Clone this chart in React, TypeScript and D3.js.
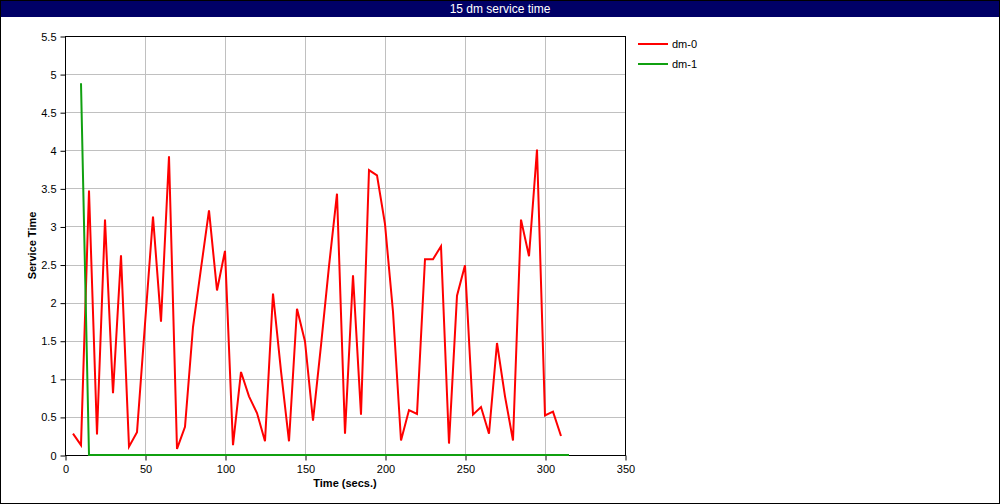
import React, { useEffect, useRef } from 'react';
import * as d3 from 'd3';

// dm-0 sampled every 5 s from 5 to 310
const dm0Times = d3.range(5, 311, 5);
const dm0Values = [
  0.28, 0.13, 3.47, 0.27, 3.09, 0.81, 2.62, 0.11, 0.3, 1.72,
  3.13, 1.75, 3.92, 0.08, 0.37, 1.68, 2.45, 3.21, 2.16, 2.68,
  0.13, 1.09, 0.77, 0.55, 0.18, 2.12, 1.1, 0.18, 1.92, 1.49,
  0.45, 1.44, 2.48, 3.43, 0.28, 2.36, 0.53, 3.74, 3.67, 3.03,
  1.88, 0.19, 0.59, 0.54, 2.57, 2.57, 2.74, 0.15, 2.09, 2.49,
  0.53, 0.63, 0.28, 1.47, 0.77, 0.19, 3.09, 2.61, 4.01, 0.52,
  0.57, 0.25,
];

// dm-1 sampled every 5 s from 10 to 315
const dm1Times = d3.range(10, 316, 5);
const dm1Values = [4.88, ...dm1Times.slice(1).map(() => 0)];

const seriesNames = ['dm-0', 'dm-1'];
const seriesColors = ['#ff0000', '#10a010'];
const xTicks = d3.range(0, 351, 50);
const yTicks = d3.range(0, 5.51, 0.5);

const W = 1000;
const H = 504;
const plot = { left: 65, right: 625, top: 36, bottom: 455 };
const font = '"Liberation Sans", Arial, sans-serif';

const App = () => {
  const ref = useRef<SVGSVGElement>(null);

  useEffect(() => {
    const svg = d3.select(ref.current);
    svg.selectAll('*').remove();

    const x = d3.scaleLinear().domain([0, 350]).range([plot.left, plot.right]);
    const y = d3.scaleLinear().domain([0, 5.5]).range([plot.bottom, plot.top]);

    svg.append('rect').attr('width', W).attr('height', H).attr('fill', '#fff');

    // title bar
    svg.append('rect').attr('x', 0).attr('y', 0).attr('width', W).attr('height', 17).attr('fill', '#000066');
    svg
      .append('text')
      .attr('x', W / 2)
      .attr('y', 12.5)
      .attr('text-anchor', 'middle')
      .attr('fill', '#fff')
      .style('font', `12px ${font}`)
      .text('15 dm service time');

    // grid
    const grid = svg.append('g').attr('stroke', '#c0c0c0').attr('stroke-width', 1);
    xTicks.slice(1, -1).forEach((t) => {
      grid.append('line').attr('x1', x(t) + 0.5).attr('x2', x(t) + 0.5).attr('y1', plot.top).attr('y2', plot.bottom);
    });
    yTicks.slice(1, -1).forEach((t) => {
      grid.append('line').attr('x1', plot.left).attr('x2', plot.right).attr('y1', Math.round(y(t)) + 0.5).attr('y2', Math.round(y(t)) + 0.5);
    });

    // axes
    const xAxis = svg
      .append('g')
      .attr('transform', `translate(0.5,${plot.bottom + 0.5})`)
      .call(d3.axisBottom(x).tickValues(xTicks).tickSize(5).tickSizeOuter(0).tickFormat(d3.format('d')));
    const yAxis = svg
      .append('g')
      .attr('transform', `translate(${plot.left + 0.5},0.5)`)
      .call(d3.axisLeft(y).tickValues(yTicks).tickSize(5).tickSizeOuter(0).tickFormat((d) => String(d)));
    [xAxis, yAxis].forEach((a) => {
      a.select('.domain').remove();
      a.selectAll('line').attr('stroke', '#000');
      a.selectAll('text').attr('fill', '#000').style('font', `11px ${font}`);
    });
    xAxis.selectAll('text').attr('dy', '0.9em');
    yAxis.selectAll('text').attr('dx', '-1px');

    // frame
    svg
      .append('rect')
      .attr('x', plot.left + 0.5)
      .attr('y', plot.top + 0.5)
      .attr('width', plot.right - plot.left)
      .attr('height', plot.bottom - plot.top)
      .attr('fill', 'none')
      .attr('stroke', '#000');

    svg
      .append('text')
      .attr('x', (plot.left + plot.right) / 2)
      .attr('y', 487)
      .attr('text-anchor', 'middle')
      .style('font', `bold 11px ${font}`)
      .text('Time (secs.)');
    svg
      .append('text')
      .attr('transform', `translate(36,${(plot.top + plot.bottom) / 2}) rotate(-90)`)
      .attr('text-anchor', 'middle')
      .style('font', `bold 11px ${font}`)
      .text('Service Time');

    // series
    const line = d3
      .line<[number, number]>()
      .x((d) => x(d[0]))
      .y((d) => y(d[1]));
    const series: [number, number][][] = [
      dm0Times.map((t, i) => [t, dm0Values[i]]),
      dm1Times.map((t, i) => [t, dm1Values[i]]),
    ];
    series.forEach((s, i) => {
      svg
        .append('path')
        .attr('d', line(s))
        .attr('fill', 'none')
        .attr('stroke', seriesColors[i])
        .attr('stroke-width', 2)
        .attr('stroke-linejoin', 'miter');
    });

    // legend
    seriesNames.forEach((name, i) => {
      const ly = 44 + i * 20;
      svg
        .append('line')
        .attr('x1', 638)
        .attr('x2', 668)
        .attr('y1', ly)
        .attr('y2', ly)
        .attr('stroke', seriesColors[i])
        .attr('stroke-width', 2);
      svg
        .append('text')
        .attr('x', 672)
        .attr('y', ly + 4)
        .style('font', `11px ${font}`)
        .text(name);
    });

    // outer border
    svg
      .append('rect')
      .attr('x', 0.5)
      .attr('y', 0.5)
      .attr('width', W - 1)
      .attr('height', H - 1)
      .attr('fill', 'none')
      .attr('stroke', '#000');
  }, []);

  return (
    <div style={{ position: 'absolute', left: 0, top: 0 }}>
      <svg ref={ref} width={W} height={H} style={{ display: 'block' }} />
    </div>
  );
};

export default App;
